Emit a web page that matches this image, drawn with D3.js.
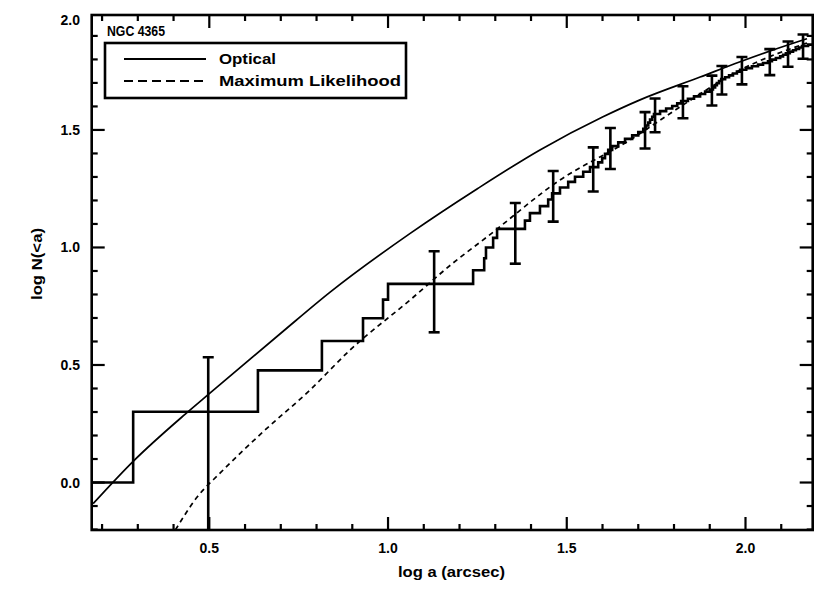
<!DOCTYPE html>
<html><head><meta charset="utf-8">
<script src="https://cdn.jsdelivr.net/npm/d3@7"></script>
<style>body{margin:0;background:#fff}text{font-family:"Liberation Sans",Arial,sans-serif;font-weight:bold;fill:#000}</style>
</head><body><svg id="c" width="830" height="593"></svg>
<script>
// Optical profile (log a, log N)
const opticalLogA = [0.175,0.287,0.432,0.500,0.700,0.838,1.062,1.250,1.425,1.600,1.705,1.873,1.985,2.077,2.172];
const opticalLogN = [-0.090,0.090,0.290,0.378,0.635,0.810,1.060,1.250,1.415,1.555,1.628,1.725,1.790,1.840,1.888];
// Maximum likelihood profile
const mlLogA = [0.405,0.466,0.530,0.650,0.782,0.894,1.062,1.182,1.277,1.481,1.677,1.817,1.985,2.172];
const mlLogN = [-0.202,-0.062,0.040,0.215,0.394,0.564,0.777,0.934,1.045,1.287,1.457,1.598,1.755,1.870];
// Cumulative counts: log a where count steps up, and the new level log N
const stepLogA = [0.10,0.287,0.636,0.815,0.930,0.986,1.000,1.238,1.269,1.274,1.294,1.305,
  1.383,1.397,1.425,1.448,1.459,1.481,1.504,1.523,1.546,1.565,1.588,1.599,1.607,1.616,1.627,
  1.644,1.663,1.683,1.700,1.714,1.722,1.728,1.733,1.739,1.744,1.761,1.778,1.795,1.809,1.820,
  1.839,1.856,1.873,1.887,1.901,1.909,1.915,1.920,1.926,1.932,1.943,1.954,1.965,1.976,1.985,
  2.002,2.018,2.035,2.049,2.063,2.074,2.085,2.097,2.105,2.113,2.124,2.133,2.141,2.150,2.158,2.175];
const stepLogN = [0.000,0.301,0.477,0.602,0.699,0.778,0.845,0.903,0.954,1.000,1.041,1.079,
  1.114,1.146,1.176,1.204,1.230,1.255,1.279,1.301,1.322,1.342,1.362,1.380,1.398,1.415,1.431,
  1.447,1.462,1.477,1.491,1.505,1.519,1.531,1.544,1.556,1.568,1.580,1.591,1.602,1.613,1.623,
  1.633,1.643,1.653,1.663,1.672,1.681,1.690,1.699,1.708,1.716,1.724,1.732,1.740,1.748,1.756,
  1.763,1.771,1.778,1.785,1.792,1.799,1.806,1.813,1.820,1.826,1.833,1.839,1.845,1.851,1.857,1.863];
// Error bars
const errLogA = [0.497,1.129,1.356,1.462,1.574,1.622,1.719,1.747,1.825,1.906,1.934,1.990,2.068,2.119,2.161];
const errHigh = [0.533,0.984,1.189,1.325,1.426,1.508,1.576,1.634,1.686,1.731,1.772,1.810,1.844,1.876,1.906];
const errLow  = [-0.232,0.639,0.931,1.110,1.238,1.334,1.421,1.490,1.550,1.604,1.651,1.694,1.733,1.769,1.803];
const xTicks = [0.5,1.0,1.5,2.0];
const xTickLabels = ["0.5","1.0","1.5","2.0"];
const yTicks = [0.0,0.5,1.0,1.5,2.0];
const yTickLabels = ["0.0","0.5","1.0","1.5","2.0"];
const legendLabels = ["Optical","Maximum Likelihood"];
const titleText = "NGC 4365";

const L=91.7,R=812.7,T=15,B=530;
const svg=d3.select("#c");
const x=d3.scaleLinear().domain([0.171,2.188]).range([L,R]);
const y=d3.scaleLinear().domain([-0.202,1.989]).range([B,T]);

svg.append("clipPath").attr("id","clip").append("rect").attr("x",L).attr("y",T).attr("width",R-L).attr("height",B-T);
const g=svg.append("g").attr("clip-path","url(#clip)");

const line=d3.line().x(d=>x(d[0])).y(d=>y(d[1])).curve(d3.curveMonotoneX);
g.append("path").datum(opticalLogA.map((v,i)=>[v,opticalLogN[i]])).attr("d",line)
  .attr("fill","none").attr("stroke","#000").attr("stroke-width",1.7);
g.append("path").datum(mlLogA.map((v,i)=>[v,mlLogN[i]])).attr("d",line)
  .attr("fill","none").attr("stroke","#000").attr("stroke-width",1.7).attr("stroke-dasharray","5,4");

const steps=stepLogA.map((v,i)=>[v,stepLogN[i]]);
steps.push([2.3,stepLogN[stepLogN.length-1]]);
g.append("path").datum(steps).attr("d",d3.line().x(d=>x(d[0])).y(d=>y(d[1])).curve(d3.curveStepAfter))
  .attr("fill","none").attr("stroke","#000").attr("stroke-width",2.6);

const eb=g.selectAll("g.eb").data(errLogA.map((v,i)=>({a:v,lo:errLow[i],hi:errHigh[i]}))).join("g");
eb.append("line").attr("x1",d=>x(d.a)).attr("x2",d=>x(d.a)).attr("y1",d=>y(d.lo)).attr("y2",d=>y(d.hi)).attr("stroke","#000").attr("stroke-width",2.6);
eb.append("line").attr("x1",d=>x(d.a)-5.5).attr("x2",d=>x(d.a)+5.5).attr("y1",d=>y(d.hi)).attr("y2",d=>y(d.hi)).attr("stroke","#000").attr("stroke-width",2.6);
eb.append("line").attr("x1",d=>x(d.a)-5.5).attr("x2",d=>x(d.a)+5.5).attr("y1",d=>y(d.lo)).attr("y2",d=>y(d.lo)).attr("stroke","#000").attr("stroke-width",2.6);

// axes
const ax=svg.append("g");
const xMinor=d3.range(2,22).map(i=>i/10).filter(v=>v>0.171&&v<2.188&&Math.abs(v*2-Math.round(v*2))>1e-6);
const yMinor=d3.range(-2,20).map(i=>i/10).filter(v=>v>-0.202&&v<1.989&&Math.abs(v*2-Math.round(v*2))>1e-6);
function tick(x1,y1,x2,y2){ax.append("line").attr("x1",x1).attr("y1",y1).attr("x2",x2).attr("y2",y2).attr("stroke","#000").attr("stroke-width",2.2);}
xTicks.forEach(v=>{tick(x(v),B,x(v),B-13);tick(x(v),T,x(v),T+13);});
xMinor.forEach(v=>{tick(x(v),B,x(v),B-6);tick(x(v),T,x(v),T+6);});
yTicks.forEach(v=>{if(y(v)>=T-1){tick(L,y(v),L+13,y(v));tick(R,y(v),R-13,y(v));}});
yMinor.forEach(v=>{tick(L,y(v),L+6,y(v));tick(R,y(v),R-6,y(v));});
ax.append("rect").attr("x",L).attr("y",T).attr("width",R-L).attr("height",B-T).attr("fill","none").attr("stroke","#000").attr("stroke-width",2.6);

xTicks.forEach((v,i)=>ax.append("text").attr("x",x(v)).attr("y",553).attr("text-anchor","middle").attr("font-size",14).text(xTickLabels[i]));
yTicks.forEach((v,i)=>ax.append("text").attr("x",80).attr("y",Math.max(y(v),20)+5).attr("text-anchor","end").attr("font-size",14).text(yTickLabels[i]));
ax.append("text").attr("x",398).attr("y",577).attr("font-size",14).attr("textLength",107).attr("lengthAdjust","spacingAndGlyphs").text("log a (arcsec)");
ax.append("text").attr("transform","translate(42,300) rotate(-90)").attr("font-size",14).attr("textLength",72).attr("lengthAdjust","spacingAndGlyphs").text("log N(<a)");

ax.append("text").attr("x",107).attr("y",36).attr("font-size",14).attr("textLength",58).attr("lengthAdjust","spacingAndGlyphs").text(titleText);
const lg=ax.append("g");
lg.append("rect").attr("x",105).attr("y",43).attr("width",301).attr("height",55).attr("fill","#fff").attr("stroke","#000").attr("stroke-width",2.6);
const legW=[57,182];
[0,1].forEach(i=>{
  const ly=59+i*22;
  lg.append("line").attr("x1",124).attr("x2",206).attr("y1",ly).attr("y2",ly).attr("stroke","#000").attr("stroke-width",2.2).attr("stroke-dasharray",i?"9,5":null);
  lg.append("text").attr("x",219).attr("y",ly+5).attr("font-size",14).attr("textLength",legW[i]).attr("lengthAdjust","spacingAndGlyphs").text(legendLabels[i]);
});
</script></body></html>
